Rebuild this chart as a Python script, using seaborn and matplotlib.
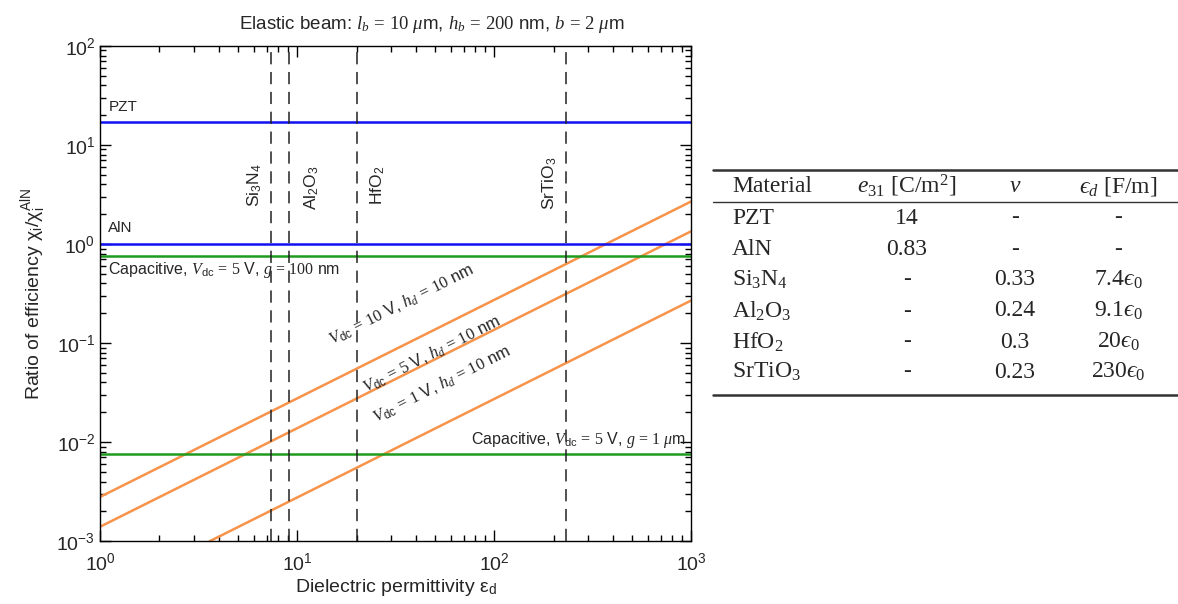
import numpy as np
import pandas as pd
import seaborn as sns
import matplotlib
matplotlib.use("Agg")
import matplotlib.pyplot as plt
from matplotlib.lines import Line2D
from matplotlib.ticker import LogLocator, NullFormatter

sns.set_style("ticks")
plt.rcParams['font.family'] = ['Liberation Sans', 'DejaVu Sans']
plt.rcParams['mathtext.fontset'] = 'custom'
plt.rcParams['mathtext.rm'] = 'Liberation Serif'
plt.rcParams['mathtext.it'] = 'Liberation Serif:italic'
plt.rcParams['mathtext.bf'] = 'Liberation Serif:bold'
plt.rcParams['mathtext.sf'] = 'Liberation Sans'
plt.rcParams['mathtext.fallback'] = 'stix'

# ---------------- data ----------------
# Horizontal reference levels (ratio of efficiency)
level_names = ["PZT", "AlN", "Cap100nm", "Cap1um"]
level_values = [17.0, 1.0, 0.75, 0.0076]
level_colors = ["#1010f0", "#1010f0", "#1f9a1f", "#1f9a1f"]

# Dielectric materials (vertical dashed lines)
materials = ["Si3N4", "Al2O3", "HfO2", "SrTiO3"]
material_eps = [7.4, 9.1, 20, 230]
material_labels = [r"$\mathsf{Si_3N_4}$", r"$\mathsf{Al_2O_3}$", r"$\mathsf{HfO_2}$", r"$\mathsf{SrTiO_3}$"]

# Orange lines (read at endpoints)
line_10V_x = [1, 1000]
line_10V_y = [0.0028, 2.7]
line_5V_x = [1, 1000]
line_5V_y = [0.0014, 1.35]
line_1V_x = [3.6, 1000]
line_1V_y = [0.001, 0.27]

# Table
table_header = ["Material", r"$e_{31}$ [C/m$^2$]", r"$\nu$", r"$ϵ_d$ [F/m]"]
table_material = ["PZT", "AlN", r"Si$_3$N$_4$", r"Al$_2$O$_3$", r"HfO$_2$", r"SrTiO$_3$"]
table_e31 = ["14", "0.83", "-", "-", "-", "-"]
table_nu = ["-", "-", "0.33", "0.24", "0.3", "0.23"]
table_epsd = ["-", "-", r"7.4$ϵ_0$", r"9.1$ϵ_0$", r"20$ϵ_0$", r"230$ϵ_0$"]

# ---------------- figure ----------------
fig = plt.figure(figsize=(11.78, 6.04), dpi=100)
ax = fig.add_axes([0.085, 0.104, 0.502, 0.82])

orange = "#f7934a"
df = pd.concat([
    pd.DataFrame({"x": line_10V_x, "y": line_10V_y, "s": "10V"}),
    pd.DataFrame({"x": line_5V_x, "y": line_5V_y, "s": "5V"}),
    pd.DataFrame({"x": line_1V_x, "y": line_1V_y, "s": "1V"}),
])
sns.lineplot(data=df, x="x", y="y", units="s", estimator=None, ax=ax,
             color=orange, lw=1.8, legend=False)

for v, c in zip(level_values, level_colors):
    ax.axhline(v, color=c, lw=1.8)

for e in material_eps:
    ax.axvline(e, color="#222222", lw=1.1, ls=(0, (8, 5)))

ax.set_xscale("log")
ax.set_yscale("log")
ax.set_xlim(1, 1000)
ax.set_ylim(1e-3, 1e2)

for s in ax.spines.values():
    s.set_linewidth(1.0)
    s.set_color("black")
ax.xaxis.set_minor_locator(LogLocator(base=10, subs=np.arange(2, 10)))
ax.yaxis.set_minor_locator(LogLocator(base=10, subs=np.arange(2, 10)))
ax.xaxis.set_minor_formatter(NullFormatter())
ax.yaxis.set_minor_formatter(NullFormatter())
ax.tick_params(which="both", direction="in", top=True, right=True, labelsize=14,
               color="black", width=1.0)
ax.tick_params(which="major", length=8)
ax.tick_params(which="minor", length=4)
ax.tick_params(axis="x", pad=8)

ax.set_xlabel("Dielectric permittivity ε$_\\mathsf{d}$", fontsize=14, labelpad=2)
ax.set_ylabel(r"Ratio of efficiency $\mathsf{\chi_i/\chi_i^{AlN}}$", fontsize=14, labelpad=6)
ax.set_title(r"Elastic beam: $l_b\,=\,10\ \mu$m, $h_b\,=\,200$ nm, $b\,=\,2\ \mu$m",
             fontsize=13.5, pad=12, x=0.561)

# annotations
ax.text(1.1, 24, "PZT", fontsize=11, va="center")
ax.text(1.1, 1.45, "AlN", fontsize=11, va="center")
ax.text(1.1, 0.55, r"Capacitive, $V_\mathsf{dc}\,=\,5$ V, $g\,=\,100$ nm", fontsize=11.5, va="center")
ax.text(940, 0.0106, r"Capacitive, $V_\mathsf{dc}\,=\,5$ V, $g\,=\,1\ \mu$m", fontsize=11.5,
        va="center", ha="right")

mat_pos = [(6.1, 3.9), (11.9, 3.7), (25.6, 3.9), (191, 4.1)]
for (x, y), lab in zip(mat_pos, material_labels):
    ax.text(x, y, lab, rotation=90, fontsize=12.5, ha="center", va="center")

rot = 26.7
ax.text(34, 0.242, r"$V_\mathsf{dc}\,=\,10$ V, $h_d\,=\,10$ nm", rotation=rot, fontsize=12,
        ha="center", va="center", rotation_mode="anchor")
ax.text(48, 0.076, r"$V_\mathsf{dc}\,=\,5$ V, $h_d\,=\,10$ nm", rotation=rot, fontsize=12,
        ha="center", va="center", rotation_mode="anchor")
ax.text(54, 0.0377, r"$V_\mathsf{dc}\,=\,1$ V, $h_d\,=\,10$ nm", rotation=rot, fontsize=12,
        ha="center", va="center", rotation_mode="anchor")

# ---------------- table ----------------
W, H = 1178.0, 604.0
def fx(px): return px / W
def fy(py): return 1 - py / H

serif = ["Liberation Serif", "DejaVu Serif"]
tfs = 17
col_x = [732, 907, 1015, 1118]
col_ha = ["left", "center", "center", "center"]
header_y = 186
row_y = [218, 249, 280, 311, 342, 372]

for x, ha, t in zip(col_x, col_ha, table_header):
    fig.text(fx(x), fy(header_y), t, ha=ha, va="center", fontsize=tfs, family=serif)
for i, y in enumerate(row_y):
    vals = [table_material[i], table_e31[i], table_nu[i], table_epsd[i]]
    for x, ha, t in zip(col_x, col_ha, vals):
        fig.text(fx(x), fy(y), t, ha=ha, va="center", fontsize=tfs, family=serif)

for py, lw in [(170, 1.8), (202, 1.0), (395, 1.8)]:
    fig.add_artist(Line2D([fx(713), fx(1178)], [fy(py), fy(py)], color="#333333", lw=lw,
                          transform=fig.transFigure))

fig.savefig("out.png", dpi=100)
